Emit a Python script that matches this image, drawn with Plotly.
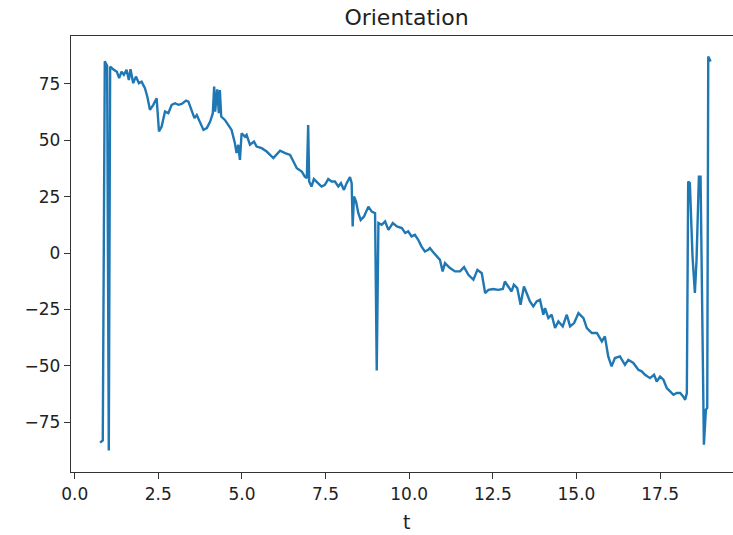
import plotly.graph_objects as go

t = [0.76, 0.84, 0.90, 0.97, 1.02, 1.06, 1.15, 1.26, 1.33, 1.40, 1.47, 1.55, 1.62, 1.67, 1.75, 1.83,
     1.92, 2.00, 2.10, 2.17, 2.25, 2.35, 2.45, 2.52, 2.60, 2.70, 2.80, 2.90, 3.00, 3.10, 3.20,
     3.33, 3.40, 3.50, 3.58, 3.65, 3.75, 3.85, 3.95, 4.05, 4.13, 4.17, 4.20, 4.26, 4.31, 4.34,
     4.38, 4.49, 4.59, 4.69, 4.79, 4.84, 4.89, 4.94, 4.99, 5.09, 5.14, 5.24, 5.36, 5.44, 5.59,
     5.74, 5.94, 6.14, 6.29, 6.44, 6.54, 6.64, 6.79, 6.88, 6.94, 6.98, 7.01, 7.08, 7.15, 7.23,
     7.38, 7.48, 7.58, 7.68, 7.78, 7.88, 7.96, 8.05, 8.13, 8.23, 8.28, 8.31, 8.35, 8.41, 8.48,
     8.55, 8.65, 8.78, 8.88, 8.98, 9.03, 9.08, 9.18, 9.28, 9.38, 9.51, 9.63, 9.78, 9.88, 9.97,
     10.07, 10.17, 10.27, 10.37, 10.47, 10.57, 10.62, 10.70, 10.82, 10.92, 11.00, 11.07, 11.22,
     11.37, 11.52, 11.64, 11.77, 11.92, 12.04, 12.17, 12.27, 12.37, 12.51, 12.66, 12.80, 12.86,
     12.96, 13.06, 13.13, 13.23, 13.33, 13.43, 13.51, 13.61, 13.71, 13.81, 13.91, 14.01, 14.06,
     14.16, 14.26, 14.36, 14.46, 14.59, 14.71, 14.81, 14.93, 15.06, 15.21, 15.31, 15.46, 15.61,
     15.76, 15.85, 15.95, 16.05, 16.15, 16.30, 16.45, 16.55, 16.70, 16.85, 16.95, 17.05, 17.20,
     17.32, 17.40, 17.50, 17.60, 17.70, 17.80, 17.90, 18.00, 18.10, 18.19, 18.25, 18.30, 18.34,
     18.39, 18.47, 18.54, 18.59, 18.66, 18.71, 18.81, 18.87, 18.91, 18.94, 19.01]

orientation = [-84, -83, 85, 83, -87.5, 82.6, 81.5, 80.4, 77.5, 80.4, 79.0, 81.2, 76.7, 81.5, 75.3, 78.2,
     75.3, 76.0, 73.1, 69.4, 63.5, 65.7, 68.6, 53.9, 56.1, 62.7, 62.0, 65.7, 66.4, 65.7, 66.1,
     67.6, 67.1, 62.7, 59.8, 61.2, 57.6, 54.6, 55.4, 58.3, 62.0, 73.8, 62.7, 72.6, 62.0, 72.3,
     60.5, 59.0, 56.8, 54.6, 48.7, 44.3, 48.0, 41.3, 53.1, 51.6, 52.4, 48.0, 49.4, 47.2, 46.5,
     45.0, 42.1, 45.4, 44.3, 43.5, 40.6, 37.6, 36.1, 33.9, 33.2, 56.8, 31.7, 29.5, 32.8, 31.7,
     29.5, 30.2, 32.8, 31.7, 31.7, 29.5, 31.0, 28.0, 31.0, 33.7, 31.0, 11.8, 25.1, 22.9, 17.7,
     14.7, 16.2, 20.6, 18.4, 17.7, -52.0, 13.3, 12.5, 14.0, 10.3, 13.3, 11.8, 11.1, 8.9, 9.6,
     7.4, 8.1, 5.9, 2.9, 0.7, 1.5, 2.2, 0.7, -1.5, -3.0, -8.1, -4.4, -6.6,
     -8.1, -8.1, -6.2, -9.6, -11.8, -7.4, -8.9, -17.7, -16.3, -15.9, -16.3, -15.9, -12.6,
     -14.8, -17.0, -14.0, -15.5, -22.9, -14.8, -17.7, -21.4, -23.6, -21.4, -20.7, -27.3, -24.4,
     -28.8, -27.3, -33.2, -30.3, -32.5, -27.3, -32.5, -31.0, -26.6, -28.8, -33.2, -35.4, -35.4,
     -39.1, -36.9, -45.8, -50.2, -46.5, -45.8, -49.5, -47.3, -48.7, -51.7, -52.4, -53.9, -55.4,
     -53.9, -56.9, -54.7, -56.1, -59.8, -61.3, -62.8, -62.0, -62.0, -63.5, -65.0, -62.0, 31.7,
     31.0, -1.5, -17.7, -3.0, 33.9, 33.9, -84.9, -69.4, -68.6, 87.1, 84.9]

x_ticks = [0.0, 2.5, 5.0, 7.5, 10.0, 12.5, 15.0, 17.5]
x_tick_labels = ["0.0", "2.5", "5.0", "7.5", "10.0", "12.5", "15.0", "17.5"]
y_ticks = [-75, -50, -25, 0, 25, 50, 75]
y_tick_labels = ["\u221275", "\u221250", "\u221225", "0", "25", "50", "75"]

W, H = 733, 535
L, R, T, B = 71, 0, 36, 63

fig = go.Figure()
fig.add_trace(go.Scatter(x=t, y=orientation, mode="lines",
                         line=dict(color="#1f77b4", width=2.4), showlegend=False))

font = "DejaVu Sans, sans-serif"
fig.update_layout(
    width=W, height=H,
    margin=dict(l=L, r=R, t=T, b=B, pad=0, autoexpand=False),
    paper_bgcolor="white", plot_bgcolor="white",
    font=dict(family=font, size=17, color="#222"),
    title=dict(text="Orientation", x=406.5 / W, xref="container", xanchor="center",
               y=1 - 17 / H, yref="container", yanchor="middle",
               font=dict(family=font, size=22, color="#222")),
    xaxis=dict(range=[-0.11, 19.68], tickvals=x_ticks, ticktext=x_tick_labels,
               showgrid=False, zeroline=False, showline=True, mirror=True,
               linecolor="#333", linewidth=1.4, ticks="outside", ticklen=6,
               tickwidth=1.2, tickcolor="#333", tickfont=dict(size=17), automargin=False),
    yaxis=dict(range=[-97.0, 96.2], tickvals=y_ticks, ticktext=y_tick_labels,
               showgrid=False, zeroline=False, showline=True, mirror=False,
               linecolor="#333", linewidth=1.4, ticks="outside", ticklen=6,
               tickwidth=1.2, tickcolor="#333", tickfont=dict(size=17), automargin=False),
    annotations=[dict(text="t", x=(406.5 - L) / (W - L - R), xref="paper",
                      y=-(522 - 472.3) / (H - T - B), yref="paper",
                      xanchor="center", yanchor="middle", showarrow=False,
                      font=dict(family=font, size=19, color="#222"))],
)

fig.write_html("out.html", config={"displayModeBar": False},
               post_script="document.body.style.margin='0';document.body.style.overflow='hidden';")
